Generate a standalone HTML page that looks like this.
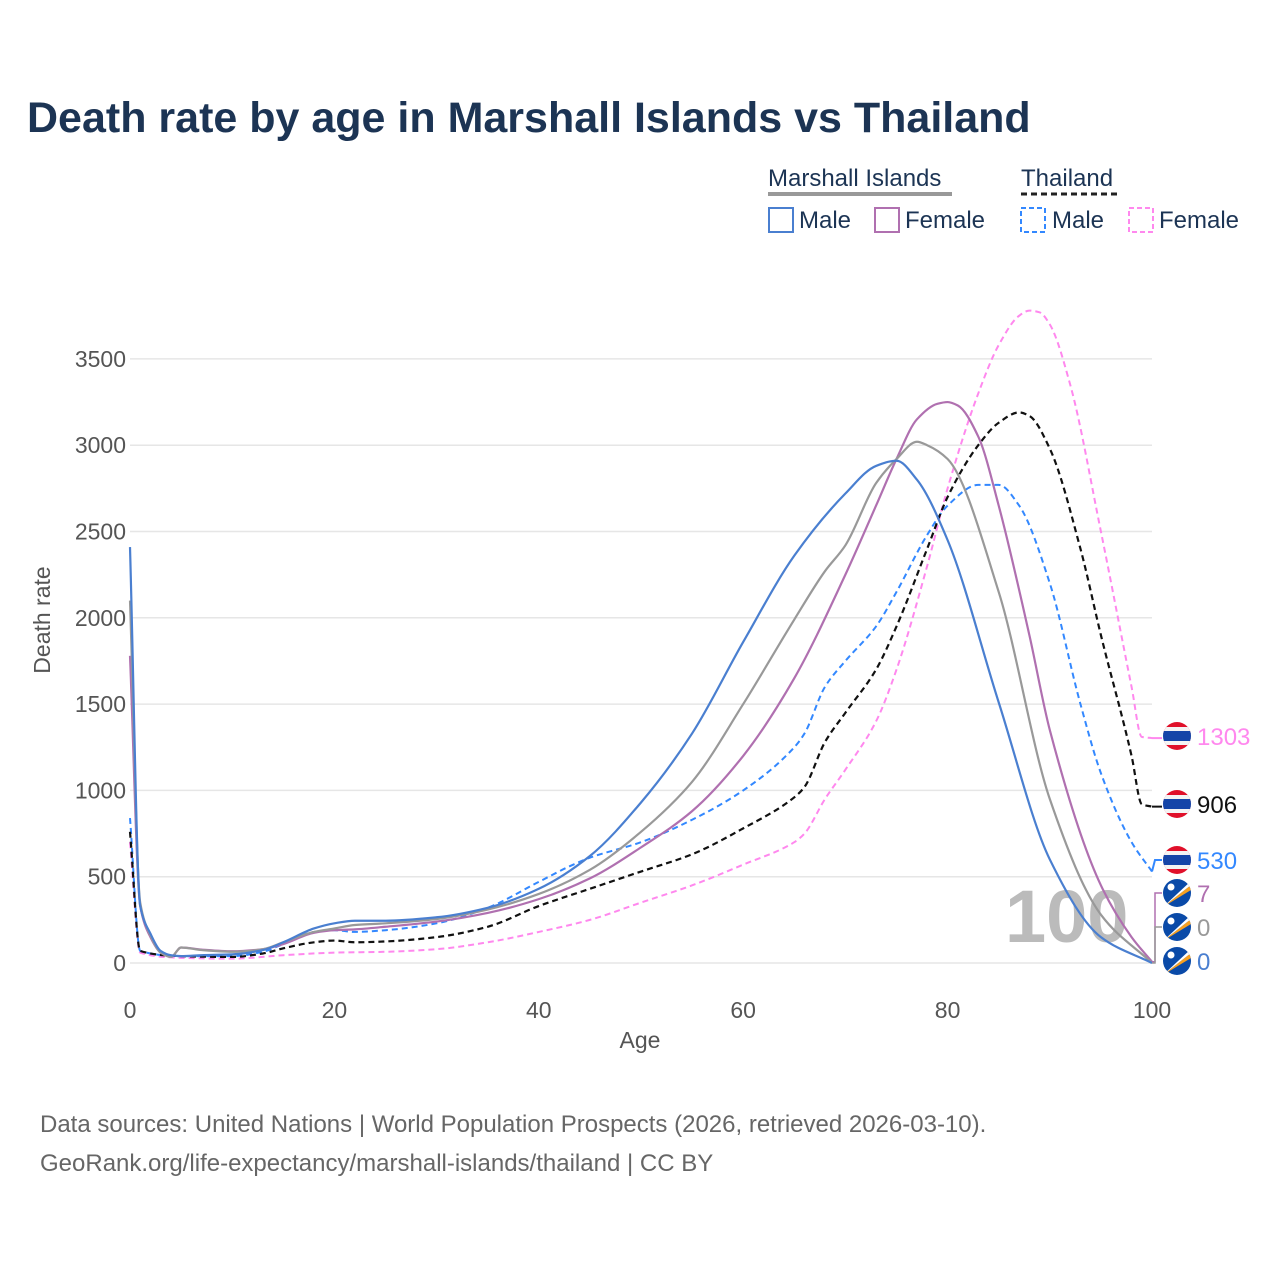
<!DOCTYPE html>
<html><head><meta charset="utf-8"><style>
body{margin:0;background:#fff;font-family:"Liberation Sans",sans-serif}
svg text{font-family:"Liberation Sans",sans-serif}
</style></head><body>
<svg id="c" width="1280" height="1280" viewBox="0 0 1280 1280">
<text x="27" y="132" font-size="43" font-weight="bold" fill="#1c3454">Death rate by age in Marshall Islands vs Thailand</text>
<g>
<text x="768" y="186" font-size="24" fill="#1c3454">Marshall Islands</text>
<line x1="768" y1="194" x2="952" y2="194" stroke="#999" stroke-width="4"/>
<text x="1021" y="186" font-size="24" fill="#1c3454">Thailand</text>
<line x1="1021" y1="194" x2="1118" y2="194" stroke="#222" stroke-width="3" stroke-dasharray="6,4"/>
<rect x="769" y="208" width="24" height="24" fill="none" stroke="#4a7fd0" stroke-width="2"/>
<text x="799" y="228" font-size="24" fill="#1c3454">Male</text>
<rect x="875" y="208" width="24" height="24" fill="none" stroke="#b070b0" stroke-width="2"/>
<text x="905" y="228" font-size="24" fill="#1c3454">Female</text>
<rect x="1021" y="208" width="24" height="24" fill="none" stroke="#3388ff" stroke-width="2" stroke-dasharray="5,3"/>
<text x="1052" y="228" font-size="24" fill="#1c3454">Male</text>
<rect x="1129" y="208" width="24" height="24" fill="none" stroke="#ff88ee" stroke-width="2" stroke-dasharray="5,3"/>
<text x="1159" y="228" font-size="24" fill="#1c3454">Female</text>
</g>
<g id="grid"></g>
<text x="1005" y="942" font-size="74" font-weight="bold" fill="#bbb">100</text>
<g id="lines"></g>
<g id="labels"></g>
<text x="640" y="1048" font-size="23" fill="#555" text-anchor="middle">Age</text>
<text transform="translate(50,620) rotate(-90)" font-size="23" fill="#555" text-anchor="middle">Death rate</text>
<text x="40" y="1132" font-size="24" fill="#666">Data sources: United Nations | World Population Prospects (2026, retrieved 2026-03-10).</text>
<text x="40" y="1171" font-size="24" fill="#666">GeoRank.org/life-expectancy/marshall-islands/thailand | CC BY</text>
</svg>
<script>
const yTicks=[0,500,1000,1500,2000,2500,3000,3500];
const xTicks=[0,20,40,60,80,100];
const mhMaleAges=[0,1,2,3,4,5,7,10,13,15,18,20,22,25,30,35,40,45,50,55,60,65,70,73,75,77,80,85,90,95,100];
const mhMaleVals=[2410,330,170,70,45,40,45,50,75,120,200,230,245,245,265,320,430,620,930,1330,1860,2360,2720,2880,2910,2800,2450,1510,600,150,0];
const mhTotAges=[0,1,2,3,4,5,7,10,13,15,18,20,22,25,30,35,40,45,50,55,60,65,68,70,73,75,77,78,80,85,90,95,100];
const mhTotVals=[2100,350,160,60,35,90,75,65,80,120,180,200,220,230,255,310,400,540,760,1050,1500,1990,2270,2420,2780,2920,3020,3000,2920,2150,950,280,0];
const mhFemAges=[0,1,2,3,4,5,7,10,13,15,18,20,22,25,30,35,40,45,50,55,60,65,70,73,75,77,79,80,81,83,85,88,90,95,98,100];
const mhFemVals=[1780,330,150,60,35,90,78,68,80,110,175,190,195,210,240,290,370,490,670,880,1200,1650,2250,2650,2920,3150,3240,3250,3230,3050,2650,1900,1350,450,150,7];
const thTotAges=[0,1,5,10,13,15,18,20,22,25,30,35,40,45,50,55,60,65,66,68,70,73,75,78,80,83,85,87,88,90,93,95,98,99,100];
const thTotVals=[760,70,40,35,55,85,120,130,120,125,150,210,330,430,530,630,780,960,1020,1280,1450,1700,1950,2400,2700,3000,3130,3190,3170,2980,2400,1900,1200,920,906];
const thMaleAges=[0,1,5,10,13,15,18,20,22,25,30,35,40,43,45,50,55,60,65,66,68,70,73,75,78,80,83,85,87,90,93,95,98,100];
const thMaleVals=[840,70,40,40,65,110,180,190,180,190,230,320,470,560,610,700,830,1000,1250,1330,1600,1750,1950,2150,2480,2650,2770,2770,2650,2200,1500,1100,700,530];
const thFemAges=[0,1,5,10,15,20,25,30,35,40,45,50,55,60,65,66,68,70,73,75,78,80,83,85,87,88,89,90,92,95,98,99,100];
const thFemVals=[700,60,30,25,45,60,65,80,120,180,250,350,450,570,700,750,950,1120,1400,1700,2300,2750,3300,3580,3750,3780,3770,3700,3350,2500,1600,1310,1303];
const endVals=[1303,906,530,7,0,0];
const endLabels=["1303","906","530","7","0","0"];

const NS="http://www.w3.org/2000/svg";
const X=a=>130+a*10.22;
const Y=v=>963-v*0.1726;
function mk(t,at,p){const e=document.createElementNS(NS,t);for(const k in at)e.setAttribute(k,at[k]);p.appendChild(e);return e;}
const grid=document.getElementById('grid');
yTicks.forEach(v=>{
  const l=mk('line',{x1:130,x2:1152,y1:Y(v),y2:Y(v),stroke:'#e6e6e6','stroke-width':1.5},grid);
  
  
  const t=mk('text',{x:126,y:Y(v)+8,'font-size':23,fill:'#555','text-anchor':'end'},grid);
  t.textContent=v;
  
  
});
xTicks.forEach(v=>{
  const t=mk('text',{x:X(v),y:1018,'font-size':23,fill:'#555','text-anchor':'middle'},grid);
  t.textContent=v;
  
  
});
function path(ages,vals){
  const xs=ages.map(X), ys=vals.map(Y), n=xs.length;
  const d=[],m=new Array(n);
  for(let i=0;i<n-1;i++)d.push((ys[i+1]-ys[i])/(xs[i+1]-xs[i]));
  m[0]=d[0];m[n-1]=d[n-2];
  for(let i=1;i<n-1;i++){
    if(d[i-1]*d[i]<=0)m[i]=0;
    else{const h0=xs[i]-xs[i-1],h1=xs[i+1]-xs[i];const w1=2*h1+h0,w2=h1+2*h0;m[i]=(w1+w2)/(w1/d[i-1]+w2/d[i]);}
  }
  let s='M'+xs[0]+','+ys[0];
  for(let i=0;i<n-1;i++){
    const h=(xs[i+1]-xs[i])/3;
    s+=' C'+(xs[i]+h)+','+(ys[i]+m[i]*h)+' '+(xs[i+1]-h)+','+(ys[i+1]-m[i+1]*h)+' '+xs[i+1]+','+ys[i+1];
  }
  return s;
}
const lines=document.getElementById('lines');
const series=[
 [thFemAges,thFemVals,'#ff88ee','6,4',2,'line-thailand-female'],
 [thMaleAges,thMaleVals,'#3388ff','6,4',2,'line-thailand-male'],
 [thTotAges,thTotVals,'#111','6,4',2.2,'line-thailand-total'],
 [mhFemAges,mhFemVals,'#b070b0','',2.2,'line-marshall-female'],
 [mhTotAges,mhTotVals,'#999','',2.2,'line-marshall-total'],
 [mhMaleAges,mhMaleVals,'#4a7fd0','',2.2,'line-marshall-male']];
series.forEach(s=>{
  const e=mk('path',{d:path(s[0],s[1]),fill:'none',stroke:s[2],'stroke-width':s[4],'stroke-dasharray':s[3]},lines);
  
  
});
const labs=document.getElementById('labels');
const labY=[736,804,860,893,927,961];
const labCol=['#ff88ee','#111','#3388ff','#b070b0','#999','#4a7fd0'];
mk('path',{d:`M1152,${Y(endVals[0])} L1162,${Y(endVals[0])}`,fill:'none',stroke:'#ff88ee','stroke-width':2},labs);
mk('path',{d:`M1152,${Y(endVals[1])} L1162,${Y(endVals[1])}`,fill:'none',stroke:'#111','stroke-width':2},labs);
mk('path',{d:`M1152,${Y(endVals[2])} L1155,860 L1162,860`,fill:'none',stroke:'#3388ff','stroke-width':2},labs);
mk('path',{d:`M1152,${Y(endVals[3])} L1155,${Y(endVals[3])} L1155,893 L1162,893`,fill:'none',stroke:'#b070b0','stroke-width':1.5},labs);
mk('path',{d:`M1152,${Y(endVals[4])} L1155,${Y(endVals[4])} L1155,927 L1162,927`,fill:'none',stroke:'#999','stroke-width':1.5},labs);
endLabels.forEach((t,i)=>{
  const cy=labY[i],cx=1177;
  const g=mk('g',{},labs);
  
  
  const cid='cl'+i;
  const cp=mk('clipPath',{id:cid},g);mk('circle',{cx,cy,r:14},cp);
  const f=mk('g',{'clip-path':`url(#${cid})`},g);
  if(i<3){
    mk('rect',{x:cx-14,y:cy-14,width:28,height:28,fill:'#e0102a'},f);
    mk('rect',{x:cx-14,y:cy-9,width:28,height:18,fill:'#f4f4f4'},f);
    mk('rect',{x:cx-14,y:cy-5,width:28,height:10,fill:'#1545a8'},f);
  }else{
    mk('rect',{x:cx-14,y:cy-14,width:28,height:28,fill:'#0a4aa8'},f);
    mk('polygon',{points:`${cx-14},${cy+14} ${cx+14},${cy-8} ${cx+14},${cy-3}`,fill:'#f7a020'},f);
    mk('polygon',{points:`${cx-14},${cy+14} ${cx+14},${cy-12} ${cx+14},${cy-8}`,fill:'#fff'},f);
    mk('circle',{cx:cx-6,cy:cy-6,r:3.5,fill:'#fff'},f);
  }
  const tx=mk('text',{x:1197,y:cy+9,'font-size':24,fill:labCol[i]},labs);
  tx.textContent=t;
  
  
});
</script>
</body></html>
